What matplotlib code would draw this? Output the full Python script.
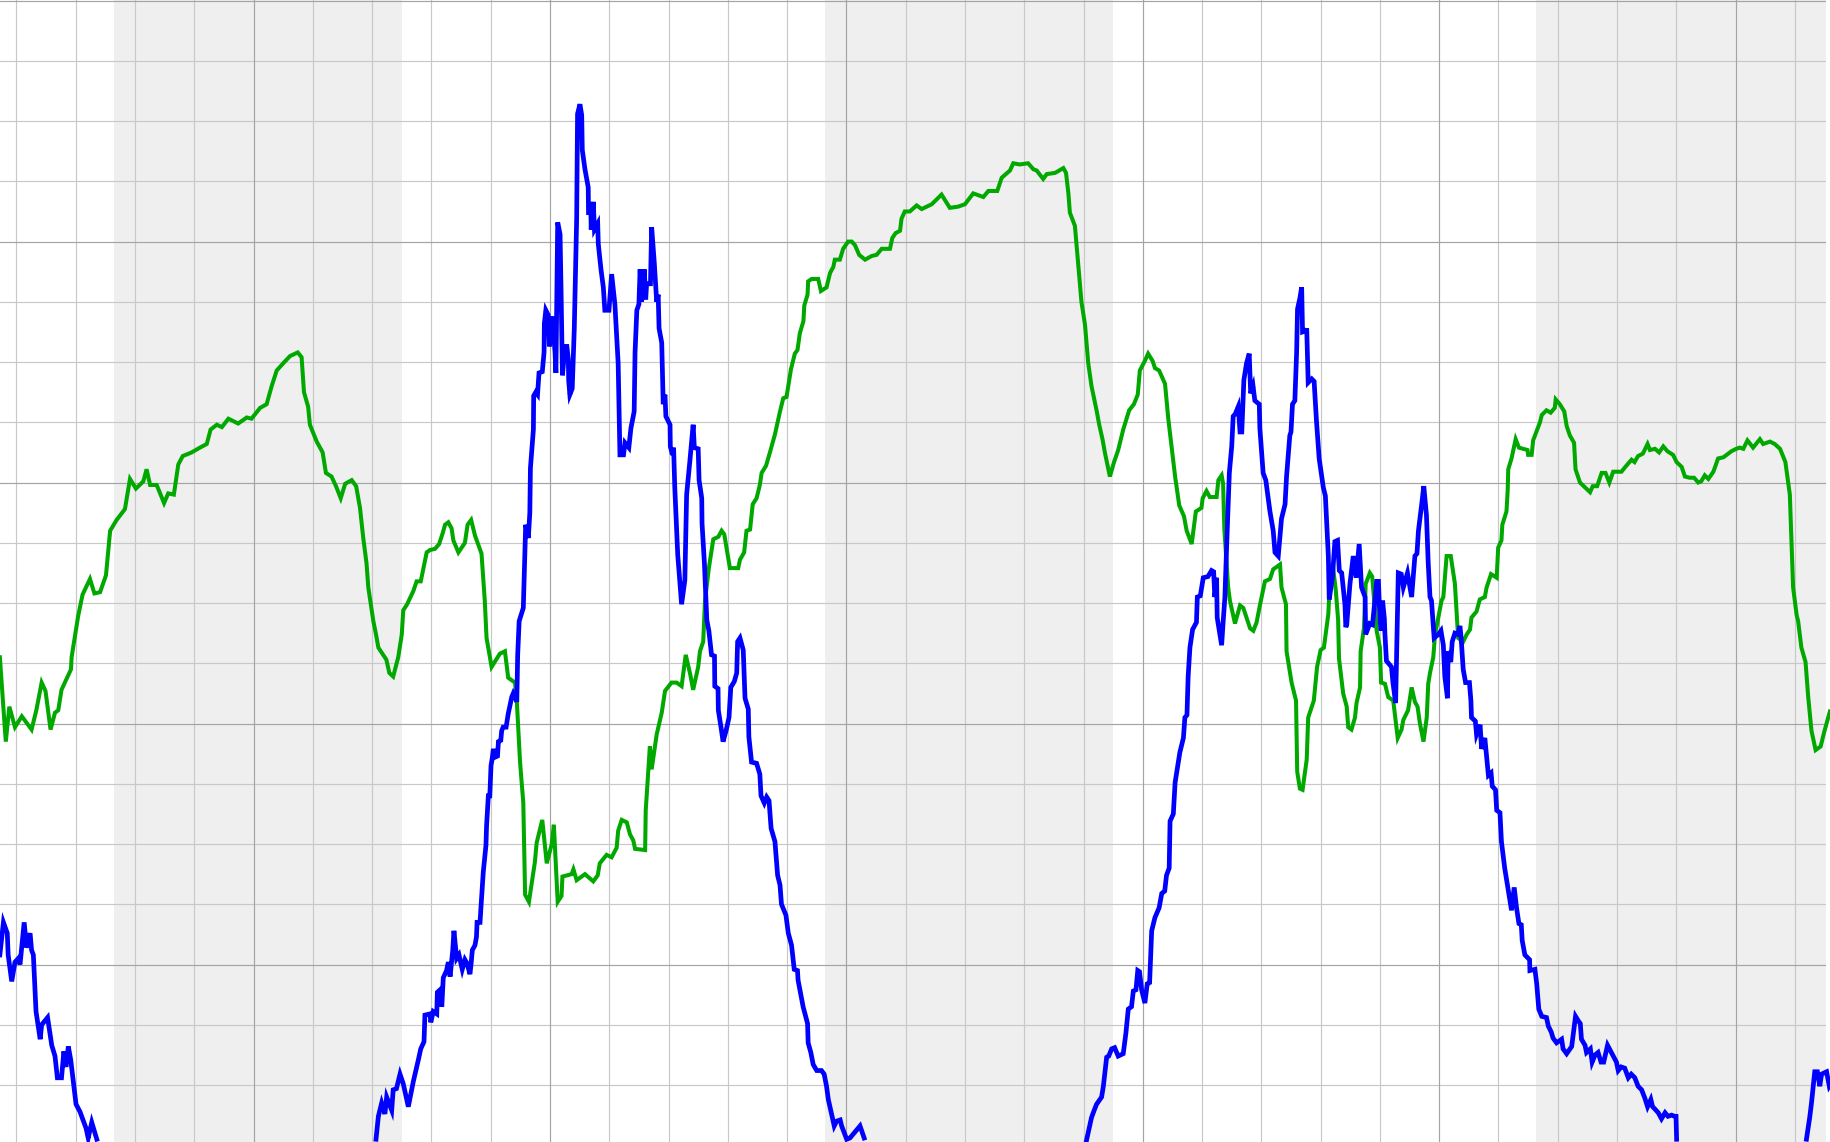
import numpy as np
import matplotlib
matplotlib.use("Agg")
import matplotlib.pyplot as plt

NaN = float("nan")

# time in hours, values in chart units
night_start = [5.28, 29.27, 53.27]
night_end = [15.0, 39.0, 65.0]

green_points = [
    (1.44, 25.5), (1.64, 18.5), (1.76, 21.4), (1.95, 19.7), (2.18, 20.6), (2.51, 19.5), (2.67, 21.1),
    (2.85, 23.4), (2.98, 22.7), (3.15, 19.5), (3.30, 20.9), (3.41, 21.1), (3.52, 22.8), (3.84, 24.5),
    (3.86, 25.5), (4.08, 28.9), (4.23, 30.7), (4.48, 32.0), (4.63, 30.8), (4.82, 30.9), (5.02, 32.3),
    (5.16, 36.0), (5.38, 36.9), (5.66, 37.8), (5.83, 40.3), (6.03, 39.5), (6.28, 40.1), (6.39, 41.1),
    (6.51, 39.8), (6.73, 39.8), (6.98, 38.3), (7.12, 39.1), (7.31, 39.0), (7.46, 41.5), (7.61, 42.2),
    (7.91, 42.5), (8.19, 42.9), (8.42, 43.2), (8.55, 44.4), (8.76, 44.8), (8.93, 44.6), (9.15, 45.3),
    (9.48, 44.9), (9.77, 45.4), (9.93, 45.3), (10.22, 46.2), (10.44, 46.5), (10.61, 48.0), (10.78, 49.3),
    (11.00, 49.9), (11.23, 50.5), (11.49, 50.8), (11.62, 50.4), (11.70, 47.5), (11.84, 46.3), (11.90, 44.8),
    (12.13, 43.4), (12.33, 42.5), (12.44, 40.8), (12.63, 40.5), (12.78, 39.7), (12.94, 38.7), (13.09, 39.9),
    (13.31, 40.2), (13.46, 39.7), (13.59, 37.9), (13.70, 35.4), (13.81, 33.3), (13.87, 31.3), (14.04, 28.5),
    (14.13, 27.4), (14.21, 26.3), (14.48, 25.3), (14.58, 24.2), (14.71, 23.9), (14.88, 25.5), (15.00, 27.4),
    (15.05, 29.4), (15.18, 29.9), (15.39, 31.0), (15.50, 31.8), (15.64, 31.8), (15.84, 34.2), (15.95, 34.4),
    (16.12, 34.5), (16.26, 34.9), (16.38, 35.8), (16.46, 36.5), (16.57, 36.7), (16.68, 36.2), (16.74, 35.2),
    (16.91, 34.2), (17.13, 35.0), (17.22, 36.5), (17.34, 36.9), (17.47, 35.6), (17.69, 34.1), (17.80, 30.2),
    (17.86, 27.1), (18.03, 24.7), (18.31, 25.8), (18.48, 26.0), (18.59, 23.8), (18.82, 23.4), (18.88, 21.9),
    (18.99, 16.8), (19.10, 13.4), (19.16, 5.8), (19.29, 5.2), (19.49, 8.5), (19.55, 10.1), (19.74, 12.0),
    (19.89, 8.4), (20.06, 10.0), (20.13, 11.6), (20.26, 5.2), (20.39, 5.7), (20.42, 7.3), (20.73, 7.5),
    (20.79, 7.9), (20.90, 7.0), (21.18, 7.5), (21.46, 6.9), (21.61, 7.4), (21.68, 8.4), (21.91, 9.1),
    (22.08, 8.9), (22.25, 9.7), (22.30, 11.1), (22.42, 12.0), (22.59, 11.8), (22.70, 10.8), (22.81, 10.3),
    (22.87, 9.6), (23.21, 9.5), (23.23, 12.8), (23.37, 18.1), (23.43, 16.2), (23.60, 19.1), (23.77, 20.9),
    (23.88, 22.7), (24.10, 23.4), (24.27, 23.4), (24.44, 23.1), (24.58, 25.7), (24.73, 24.1), (24.83, 22.8),
    (25.00, 24.7), (25.06, 26.0), (25.17, 26.8), (25.23, 30.2), (25.36, 32.9), (25.51, 35.3), (25.68, 35.5),
    (25.79, 36.0), (25.88, 35.7), (26.07, 32.9), (26.35, 32.9), (26.41, 33.6), (26.55, 34.2), (26.63, 36.0),
    (26.75, 36.1), (26.84, 38.2), (26.97, 38.7), (27.08, 39.8), (27.14, 40.8), (27.29, 41.4), (27.42, 42.5),
    (27.59, 44.0), (27.76, 45.9), (27.87, 47.0), (27.98, 47.1), (28.13, 49.4), (28.26, 50.7), (28.35, 51.0),
    (28.43, 52.4), (28.55, 53.4), (28.58, 54.7), (28.69, 55.6), (28.71, 56.7), (28.83, 56.9), (29.05, 56.9),
    (29.14, 55.9), (29.33, 56.2), (29.45, 57.4), (29.56, 57.9), (29.61, 58.5), (29.78, 58.5), (29.89, 59.4),
    (30.06, 60.0), (30.18, 60.0), (30.29, 59.7), (30.43, 58.9), (30.63, 58.5), (30.85, 58.8), (31.02, 58.9),
    (31.19, 59.4), (31.47, 59.4), (31.55, 60.3), (31.66, 60.7), (31.81, 60.9), (31.86, 61.9), (31.97, 62.5),
    (32.14, 62.5), (32.37, 63.0), (32.54, 62.7), (32.88, 63.1), (33.21, 63.9), (33.49, 62.8), (33.77, 62.9),
    (34.00, 63.1), (34.28, 64.0), (34.62, 63.7), (34.79, 64.2), (35.09, 64.2), (35.24, 65.3), (35.52, 65.9),
    (35.63, 66.5), (35.85, 66.4), (36.13, 66.5), (36.31, 66.0), (36.42, 65.9), (36.64, 65.2), (36.76, 65.6),
    (37.04, 65.7), (37.32, 66.1), (37.41, 65.7), (37.49, 64.0), (37.54, 62.4), (37.71, 61.3), (37.82, 58.2),
    (37.93, 55.0), (38.05, 53.1), (38.16, 49.9), (38.27, 48.0), (38.44, 46.0), (38.53, 44.8), (38.64, 43.6),
    (38.72, 42.5), (38.89, 40.5), (39.03, 41.7), (39.17, 42.7), (39.34, 44.4), (39.54, 46.0), (39.70, 46.5),
    (39.83, 47.3), (39.90, 49.3), (40.07, 50.1), (40.18, 50.7), (40.33, 50.1), (40.41, 49.5), (40.55, 49.3),
    (40.75, 48.2), (40.86, 45.3), (40.97, 43.0), (41.09, 40.5), (41.23, 38.1), (41.39, 37.2), (41.48, 36.0),
    (41.65, 34.9), (41.79, 37.6), (41.98, 37.9), (42.02, 38.7), (42.15, 39.3), (42.26, 38.8), (42.49, 38.8),
    (42.55, 40.2), (42.66, 40.6), (42.71, 39.9), (42.75, 36.2), (42.88, 31.3), (42.94, 30.2), (43.11, 28.3),
    (43.28, 29.8), (43.39, 29.6), (43.62, 27.9), (43.73, 27.7), (43.84, 28.4), (43.95, 29.8), (44.12, 31.8),
    (44.29, 32.0), (44.40, 32.8), (44.57, 33.1), (44.63, 33.2), (44.68, 31.3), (44.83, 29.9), (44.85, 26.0),
    (45.02, 23.4), (45.17, 21.9), (45.21, 16.0), (45.30, 14.6), (45.39, 14.5), (45.53, 17.0), (45.58, 20.5),
    (45.77, 21.9), (45.88, 24.7), (46.00, 26.1), (46.11, 26.3), (46.26, 29.1), (46.29, 30.7), (46.37, 32.5),
    (46.43, 32.7), (46.51, 31.1), (46.59, 28.6), (46.62, 25.4), (46.76, 22.5), (46.88, 21.4), (46.93, 19.7),
    (47.04, 19.5), (47.16, 20.5), (47.21, 21.7), (47.33, 23.0), (47.35, 26.0), (47.46, 27.9), (47.50, 30.2),
    (47.52, 31.6), (47.66, 32.5), (47.74, 32.2), (47.89, 27.7), (48.00, 26.3), (48.04, 23.4), (48.17, 23.3),
    (48.28, 22.2), (48.45, 21.9), (48.60, 18.8), (48.73, 19.5), (48.79, 20.3), (48.95, 21.1), (49.07, 23.0),
    (49.18, 21.8), (49.27, 21.4), (49.35, 20.0), (49.47, 18.5), (49.58, 20.5), (49.63, 23.3), (49.69, 24.2),
    (49.80, 25.5), (49.86, 27.4), (50.08, 30.2), (50.14, 30.5), (50.25, 33.9), (50.39, 33.9), (50.53, 31.6),
    (50.64, 27.1), (50.81, 26.8), (50.93, 27.4), (51.04, 27.8), (51.09, 28.8), (51.26, 29.3), (51.37, 30.3),
    (51.54, 30.5), (51.60, 31.3), (51.75, 32.4), (51.94, 32.1), (51.99, 34.6), (52.10, 35.2), (52.13, 36.5),
    (52.27, 37.6), (52.31, 39.3), (52.33, 41.1), (52.44, 42.0), (52.58, 43.6), (52.69, 42.9), (52.98, 42.7),
    (53.00, 42.3), (53.12, 42.3), (53.17, 43.5), (53.40, 45.0), (53.46, 45.6), (53.62, 46.0), (53.76, 45.8),
    (53.90, 46.2), (53.93, 46.9), (54.07, 46.5), (54.22, 45.9), (54.30, 44.7), (54.41, 43.9), (54.55, 43.3),
    (54.60, 41.1), (54.75, 40.0), (54.92, 39.6), (55.09, 39.2), (55.18, 39.7), (55.33, 39.7), (55.48, 40.8),
    (55.61, 40.8), (55.74, 40.0), (55.87, 40.9), (56.15, 40.9), (56.28, 41.3), (56.49, 41.9), (56.59, 41.7),
    (56.71, 42.2), (56.87, 42.4), (57.03, 43.2), (57.11, 42.7), (57.28, 42.8), (57.42, 42.5), (57.56, 43.0),
    (57.70, 42.6), (57.89, 42.3), (58.01, 41.7), (58.18, 41.3), (58.29, 40.5), (58.45, 40.4), (58.60, 40.4),
    (58.74, 40.0), (58.84, 40.1), (58.96, 40.6), (59.08, 40.3), (59.25, 40.9), (59.41, 42.0), (59.59, 42.1),
    (59.86, 42.6), (60.02, 42.8), (60.14, 42.9), (60.26, 42.8), (60.40, 43.5), (60.59, 42.9), (60.82, 43.6),
    (60.93, 43.2), (61.16, 43.4), (61.32, 43.2), (61.50, 42.8), (61.68, 41.7), (61.83, 39.0), (61.94, 31.3),
    (62.06, 29.0), (62.11, 28.5), (62.22, 26.3), (62.36, 25.1), (62.45, 22.2), (62.56, 19.4), (62.70, 17.8),
    (62.87, 18.1), (62.99, 19.3), (63.18, 21.0),
]

blue_points = [
    (1.44, 0.8), (1.56, 3.5), (1.69, 2.6), (1.72, 0.8), (1.84, -1.4), (1.95, 0.2), (2.06, 0.5), (2.12, 0.0),
    (2.26, 3.5), (2.34, 1.4), (2.46, 2.6), (2.51, 1.2), (2.57, 0.8), (2.66, -3.9), (2.80, -6.2), (2.85, -5.0),
    (3.05, -4.4), (3.19, -6.7), (3.30, -7.6), (3.38, -9.4), (3.52, -9.4), (3.60, -7.2), (3.67, -8.5),
    (3.75, -6.8), (3.83, -7.9), (4.01, -11.6), (4.14, -12.2), (4.35, -13.6), (4.42, -14.4), (4.54, -13.1),
    (4.71, -14.5), (4.75, NaN),
    (14.13, -14.5), (14.21, -12.6), (14.32, -11.5), (14.43, -12.4), (14.49, -11.0), (14.66, -12.1),
    (14.71, -10.4), (14.82, -10.3), (14.94, -9.1), (15.05, -9.9), (15.22, -11.8), (15.39, -9.7), (15.56, -7.9),
    (15.64, -7.0), (15.75, -6.4), (15.78, -4.2), (15.95, -4.1), (15.98, -4.8), (16.06, -3.9), (16.18, -4.1),
    (16.20, -2.3), (16.29, -2.1), (16.35, -3.5), (16.40, -1.1), (16.51, -0.5), (16.57, 0.2), (16.63, -1.0),
    (16.72, 1.2), (16.76, 2.8), (16.85, 0.5), (16.93, 0.8), (17.04, -0.4), (17.13, 0.4), (17.20, 0.1),
    (17.30, -0.8), (17.34, 0.1), (17.38, 1.2), (17.47, 1.6), (17.52, 2.3), (17.54, 3.5), (17.64, 3.5),
    (17.67, 4.7), (17.75, 7.7), (17.84, 9.9), (17.86, 11.5), (17.92, 14.0), (17.97, 14.0), (18.01, 16.5),
    (18.05, 17.1), (18.09, 17.9), (18.14, 17.2), (18.23, 17.3), (18.26, 18.5), (18.34, 18.6), (18.37, 19.4),
    (18.42, 19.7), (18.52, 19.7), (18.59, 20.8), (18.71, 22.2), (18.76, 22.5), (18.82, 22.2), (18.88, 21.8),
    (18.91, 25.7), (18.96, 28.5), (19.10, 29.6), (19.18, 36.5), (19.27, 35.4), (19.32, 37.5), (19.34, 41.2),
    (19.44, 44.4), (19.45, 47.2), (19.52, 47.5), (19.58, 47.3), (19.63, 49.1), (19.74, 49.2), (19.80, 50.8),
    (19.81, 53.2), (19.86, 54.3), (19.94, 53.9), (19.98, 51.3), (20.08, 53.8), (20.17, 50.8), (20.20, 49.1),
    (20.26, 61.6), (20.34, 60.6), (20.37, 56.5), (20.42, 48.9), (20.51, 51.3), (20.57, 51.3), (20.62, 50.2),
    (20.63, 48.5), (20.67, 47.3), (20.75, 47.8), (20.82, 52.8), (20.90, 61.9), (20.93, 70.6), (21.01, 71.4),
    (21.07, 70.5), (21.09, 67.6), (21.18, 66.0), (21.29, 64.5), (21.30, 62.4), (21.38, 62.4), (21.39, 61.0),
    (21.46, 63.3), (21.50, 61.0), (21.61, 61.5), (21.63, 59.8), (21.72, 57.7), (21.80, 56.2), (21.85, 54.3),
    (21.99, 54.3), (22.08, 57.3), (22.19, 54.8), (22.30, 49.9), (22.36, 42.3), (22.48, 42.3), (22.53, 43.3),
    (22.66, 42.9), (22.73, 44.5), (22.84, 45.9), (22.87, 50.8), (22.93, 54.3), (23.00, 54.8), (23.04, 57.7),
    (23.09, 55.0), (23.18, 57.7), (23.23, 55.2), (23.26, 56.5), (23.39, 56.5), (23.43, 61.2), (23.52, 58.2),
    (23.60, 55.0), (23.65, 55.6), (23.68, 52.8), (23.77, 51.6), (23.82, 46.5), (23.88, 47.3), (23.91, 45.5),
    (24.05, 44.8), (24.06, 43.0), (24.13, 42.3), (24.17, 42.9), (24.21, 39.6), (24.31, 34.0), (24.44, 29.9),
    (24.55, 31.9), (24.61, 39.0), (24.72, 41.8), (24.83, 44.8), (24.87, 42.9), (25.00, 42.8), (25.03, 40.2),
    (25.12, 38.7), (25.13, 36.6), (25.21, 33.3), (25.29, 28.6), (25.36, 27.7), (25.45, 25.7), (25.55, 25.6),
    (25.56, 23.1), (25.67, 22.9), (25.68, 21.1), (25.77, 19.7), (25.84, 18.5), (25.94, 19.4), (26.04, 20.5),
    (26.10, 23.0), (26.22, 23.5), (26.30, 24.2), (26.33, 26.8), (26.41, 27.1), (26.52, 26.1), (26.58, 22.1),
    (26.69, 21.2), (26.71, 18.9), (26.80, 16.8), (26.97, 16.7), (27.08, 15.8), (27.12, 14.0), (27.23, 13.4),
    (27.31, 13.9), (27.39, 13.6), (27.46, 11.3), (27.59, 10.2), (27.68, 7.4), (27.76, 6.6), (27.81, 5.0),
    (27.96, 4.1), (28.04, 2.6), (28.15, 1.6), (28.24, -0.4), (28.35, -0.5), (28.37, -1.3), (28.54, -3.5),
    (28.69, -4.9), (28.71, -6.5), (28.80, -7.3), (28.88, -8.3), (29.00, -8.8), (29.16, -8.8), (29.25, -9.1),
    (29.33, -10.1), (29.39, -11.2), (29.50, -12.4), (29.59, -13.4), (29.67, -13.0), (29.79, -12.9),
    (29.84, -13.4), (30.01, -14.5), (30.12, -14.4), (30.29, -13.9), (30.46, -13.4), (30.60, -14.4),
    (30.65, NaN),
    (38.10, -14.6), (38.27, -12.7), (38.36, -12.1), (38.44, -11.6), (38.61, -11.0), (38.67, -10.1),
    (38.78, -7.7), (38.85, -7.6), (38.95, -7.0), (39.05, -6.9), (39.17, -7.6), (39.34, -7.4), (39.43, -5.7),
    (39.51, -3.7), (39.62, -3.5), (39.68, -2.2), (39.77, -2.1), (39.83, -0.5), (39.89, -0.6), (39.96, -2.1),
    (40.07, -3.2), (40.15, -1.6), (40.23, -1.5), (40.30, 2.8), (40.41, 3.9), (40.55, 4.7), (40.64, 5.9),
    (40.74, 6.1), (40.80, 7.4), (40.89, 8.0), (40.92, 11.9), (41.03, 12.5), (41.09, 15.1), (41.20, 16.8),
    (41.25, 17.6), (41.37, 18.8), (41.42, 20.5), (41.49, 20.7), (41.53, 23.9), (41.59, 26.3), (41.68, 27.8),
    (41.81, 28.4), (41.84, 30.5), (41.94, 30.6), (42.04, 32.1), (42.20, 32.2), (42.32, 32.7), (42.39, 32.6),
    (42.43, 30.5), (42.49, 32.1), (42.51, 28.8), (42.66, 26.5), (42.71, 28.4), (42.77, 30.5), (42.83, 34.8),
    (42.92, 40.8), (43.00, 43.0), (43.05, 45.5), (43.12, 45.7), (43.22, 46.3), (43.28, 44.2), (43.34, 44.2),
    (43.41, 48.5), (43.50, 49.9), (43.59, 50.7), (43.64, 47.4), (43.72, 48.0), (43.78, 46.8), (43.93, 46.5),
    (43.95, 44.5), (44.06, 40.8), (44.15, 40.2), (44.29, 37.6), (44.40, 36.0), (44.46, 34.2), (44.57, 33.9),
    (44.68, 37.0), (44.80, 38.2), (44.85, 40.5), (44.96, 43.9), (45.00, 44.2), (45.05, 46.5), (45.13, 46.8),
    (45.19, 50.8), (45.22, 54.4), (45.30, 55.3), (45.36, 56.2), (45.39, 52.5), (45.51, 52.6), (45.53, 52.8),
    (45.58, 48.3), (45.70, 48.6), (45.78, 48.4), (45.86, 45.1), (45.95, 42.0), (46.09, 39.6), (46.16, 38.9),
    (46.26, 33.9), (46.29, 30.3), (46.40, 32.2), (46.48, 35.1), (46.57, 35.2), (46.63, 32.7), (46.71, 32.5),
    (46.82, 29.9), (46.85, 28.0), (46.88, 28.2), (46.99, 31.6), (47.10, 33.9), (47.20, 32.1), (47.30, 34.9),
    (47.38, 31.3), (47.50, 30.5), (47.52, 27.4), (47.66, 28.3), (47.75, 28.2), (47.83, 30.2), (47.89, 31.8),
    (47.95, 31.8), (48.00, 28.6), (48.04, 27.7), (48.09, 30.2), (48.15, 28.7), (48.17, 27.4), (48.22, 25.2),
    (48.39, 24.7), (48.44, 23.4), (48.53, 21.7), (48.60, 30.2), (48.62, 32.5), (48.72, 32.4), (48.79, 31.3),
    (48.93, 32.5), (49.07, 30.5), (49.18, 33.9), (49.25, 34.1), (49.30, 36.0), (49.41, 38.2), (49.48, 39.7),
    (49.57, 37.3), (49.63, 33.3), (49.69, 30.5), (49.74, 30.2), (49.83, 27.1), (49.97, 27.4), (50.06, 27.7),
    (50.14, 26.5), (50.19, 23.9), (50.28, 22.1), (50.30, 26.0), (50.39, 25.1), (50.44, 26.8), (50.53, 27.5),
    (50.63, 27.4), (50.70, 28.1), (50.74, 27.1), (50.81, 24.5), (50.89, 23.4), (51.02, 23.4), (51.07, 21.9),
    (51.09, 20.5), (51.22, 20.2), (51.26, 19.1), (51.38, 19.9), (51.43, 17.9), (51.54, 18.8), (51.66, 15.7),
    (51.75, 15.9), (51.79, 14.8), (51.90, 14.5), (51.94, 12.8), (52.05, 12.6), (52.10, 10.2), (52.21, 8.0),
    (52.33, 6.2), (52.44, 4.5), (52.53, 6.4), (52.61, 4.7), (52.69, 3.4), (52.77, 3.3), (52.80, 2.0),
    (52.89, 0.8), (53.05, 0.4), (53.06, -0.5), (53.23, -0.4), (53.29, -1.6), (53.36, -3.7), (53.46, -4.3),
    (53.62, -4.4), (53.68, -5.1), (53.78, -5.6), (53.84, -6.1), (53.96, -6.5), (54.13, -6.2), (54.18, -7.0),
    (54.30, -7.4), (54.47, -6.8), (54.60, -4.3), (54.70, -4.7), (54.76, -4.9), (54.80, -6.2), (54.92, -6.7),
    (54.97, -7.3), (55.10, -7.0), (55.16, -8.1), (55.26, -7.5), (55.36, -7.3), (55.46, -8.1), (55.55, -8.1),
    (55.68, -6.7), (55.81, -7.3), (55.98, -8.1), (56.04, -8.8), (56.14, -8.5), (56.26, -8.6), (56.38, -9.4),
    (56.48, -9.1), (56.60, -9.4), (56.71, -10.1), (56.83, -10.4), (56.94, -11.1), (57.03, -11.8),
    (57.14, -11.2), (57.20, -11.8), (57.28, -12.0), (57.39, -12.3), (57.50, -12.8), (57.62, -12.3),
    (57.72, -12.6), (57.84, -12.5), (57.95, -12.6), (57.99, -12.6), (58.01, -14.5), (58.05, NaN),
    (62.39, -14.5), (62.50, -12.7), (62.56, -11.5), (62.67, -8.9), (62.76, -8.9), (62.84, -10.1),
    (62.90, -9.1), (63.07, -8.9), (63.16, -10.1), (63.21, -9.9),
]

x_minor = list(range(2, 64, 2))
x_major = [10, 20, 30, 40, 50, 60]
y_minor = [-10, -5, 5, 10, 15, 25, 30, 35, 45, 50, 55, 65, 70, 75]
y_major = [0, 20, 40, 60, 80]

W, H = 1831, 1142
fig = plt.figure(figsize=(W / 100, H / 100), dpi=100)
ax = fig.add_axes([0, 0, 1826 / W, 1])
ax.set_xlim(1.4446, 63.05)
ax.set_ylim(-14.73, 80.05)

for s, e in zip(night_start, night_end):
    ax.axvspan(s, e, color="#efefef", lw=0, zorder=0)

for x in x_minor:
    if x not in x_major:
        ax.axvline(x, color="#c8c8c8", lw=0.85, zorder=0.5)
for x in x_major:
    ax.axvline(x, color="#a4a4a4", lw=0.85, zorder=0.6)
for y in y_minor:
    ax.axhline(y, color="#c8c8c8", lw=0.85, zorder=0.5)
for y in y_major:
    ax.axhline(y, color="#a4a4a4", lw=0.85, zorder=0.6)

gt, gv = zip(*green_points)
bt, bv = zip(*blue_points)
ax.plot(gt, gv, color="#00a800", lw=2.9, solid_joinstyle="miter", zorder=3, clip_on=False)
ax.plot(bt, bv, color="#0000ff", lw=3.4, solid_joinstyle="miter", zorder=4, clip_on=False)

ax.set_xticks([])
ax.set_yticks([])
for sp in ax.spines.values():
    sp.set_visible(False)

fig.savefig("out.png", dpi=100)
